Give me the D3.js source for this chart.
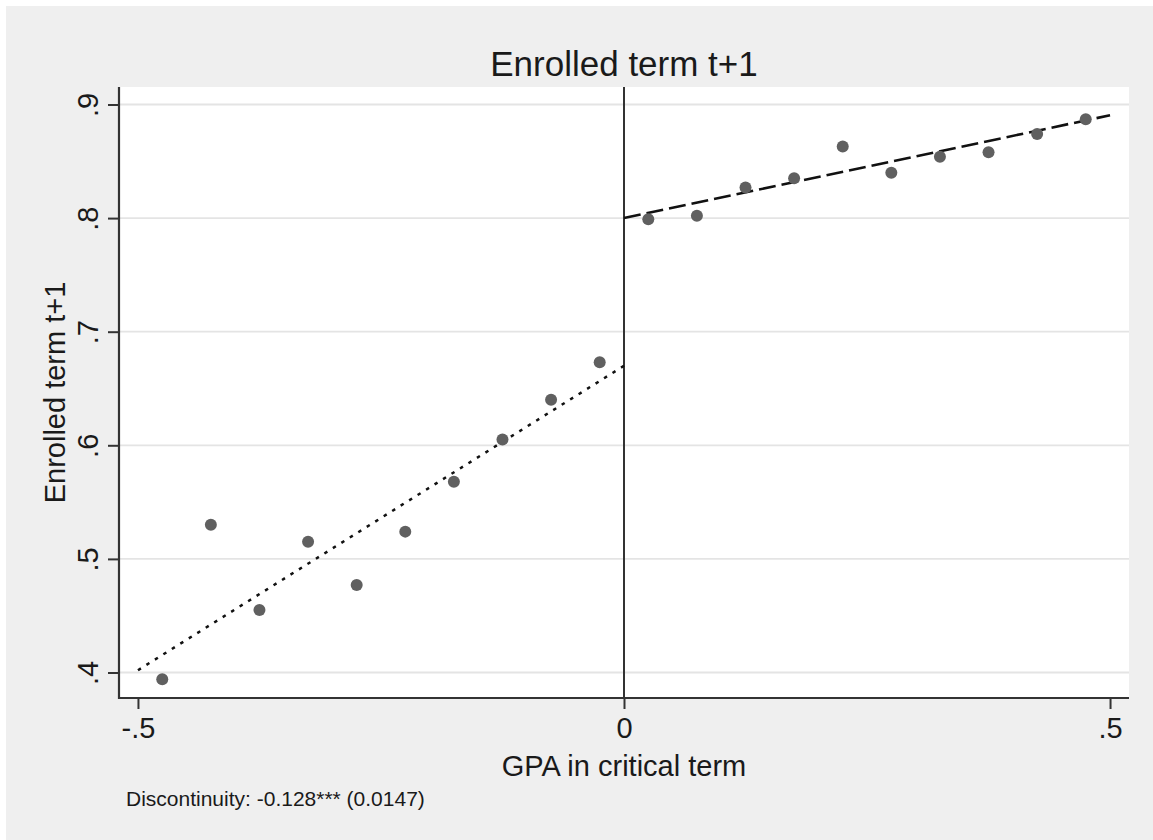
<!DOCTYPE html>
<html>
<head>
<meta charset="utf-8">
<script src="https://cdn.jsdelivr.net/npm/d3@7"></script>
<style>
  html, body { margin: 0; padding: 0; background: #ffffff; }
  svg { display: block; }
  text { font-family: "Liberation Sans", Arial, Helvetica, sans-serif; fill: #1a1a1a; }
</style>
</head>
<body>
<svg id="chart" width="1153" height="840"></svg>
<script>
// ---- data ----
const chartTitle = "Enrolled term t+1";
const xAxisTitle = "GPA in critical term";
const yAxisTitle = "Enrolled term t+1";
const noteText = "Discontinuity: -0.128*** (0.0147)";

const xTickValues = [-0.5, 0, 0.5];
const xTickLabels = ["-.5", "0", ".5"];
const yTickValues = [0.4, 0.5, 0.6, 0.7, 0.8, 0.9];
const yTickLabels = [".4", ".5", ".6", ".7", ".8", ".9"];

const leftBinX = [-0.475, -0.425, -0.375, -0.325, -0.275, -0.225, -0.175, -0.125, -0.075, -0.025];
const leftBinY = [0.394, 0.530, 0.455, 0.515, 0.477, 0.524, 0.568, 0.605, 0.640, 0.673];
const rightBinX = [0.025, 0.075, 0.125, 0.175, 0.225, 0.275, 0.325, 0.375, 0.425, 0.475];
const rightBinY = [0.799, 0.802, 0.827, 0.835, 0.863, 0.840, 0.854, 0.858, 0.874, 0.887];

const leftFitX = [-0.5, 0];
const leftFitY = [0.402, 0.670];
const rightFitX = [0, 0.5];
const rightFitY = [0.800, 0.8905];

const cutoff = 0;

// ---- layout ----
const W = 1153, H = 840;
const plot = { left: 119, right: 1129, top: 87, bottom: 698 };

const svg = d3.select("#chart");

// outer gray panel
svg.append("rect").attr("x", 6).attr("y", 6).attr("width", W - 6).attr("height", H - 6)
  .attr("fill", "#efefef");

// plot region
svg.append("rect").attr("x", plot.left).attr("y", plot.top)
  .attr("width", plot.right - plot.left).attr("height", plot.bottom - plot.top)
  .attr("fill", "#ffffff");

const x = d3.scaleLinear().domain([-0.5195, 0.5195]).range([plot.left, plot.right]);
const y = d3.scaleLinear().domain([0.37755, 0.9154]).range([plot.bottom, plot.top]);

// gridlines
svg.append("g").selectAll("line").data(yTickValues).join("line")
  .attr("x1", plot.left).attr("x2", plot.right)
  .attr("y1", d => y(d)).attr("y2", d => y(d))
  .attr("stroke", "#e4e4e4").attr("stroke-width", 1.8);

// cutoff vertical line
svg.append("line")
  .attr("x1", x(cutoff)).attr("x2", x(cutoff))
  .attr("y1", plot.top).attr("y2", plot.bottom)
  .attr("stroke", "#333333").attr("stroke-width", 2);

// fitted lines
const line = d3.line().x(d => x(d[0])).y(d => y(d[1]));
svg.append("path").datum(d3.zip(leftFitX, leftFitY))
  .attr("d", line).attr("fill", "none")
  .attr("stroke", "#111111").attr("stroke-width", 2.5)
  .attr("stroke-dasharray", "3.5,6.5");
svg.append("path").datum(d3.zip(rightFitX, rightFitY))
  .attr("d", line).attr("fill", "none")
  .attr("stroke", "#111111").attr("stroke-width", 2.6)
  .attr("stroke-dasharray", "17,6");

// points
const pts = d3.zip(leftBinX, leftBinY).concat(d3.zip(rightBinX, rightBinY));
svg.append("g").selectAll("circle").data(pts).join("circle")
  .attr("cx", d => x(d[0])).attr("cy", d => y(d[1])).attr("r", 6)
  .attr("fill", "#606060");

// axes
const yAxis = d3.axisLeft(y).tickValues(yTickValues)
  .tickFormat((d, i) => yTickLabels[i]).tickSize(11).tickSizeOuter(0);
const gy = svg.append("g").attr("transform", `translate(${plot.left},0)`).call(yAxis);
gy.select(".domain").remove();
gy.selectAll(".tick line").attr("stroke", "#333333").attr("stroke-width", 2);
gy.selectAll(".tick text")
  .attr("transform", "rotate(-90)")
  .attr("x", 0).attr("y", -21).attr("dy", null)
  .attr("text-anchor", "middle")
  .style("font-size", "29px").style("fill", "#1a1a1a")
  .style("font-family", "'Liberation Sans', Arial, sans-serif");

const xAxis = d3.axisBottom(x).tickValues(xTickValues)
  .tickFormat((d, i) => xTickLabels[i]).tickSize(11).tickSizeOuter(0);
const gx = svg.append("g").attr("transform", `translate(0,${plot.bottom})`).call(xAxis);
gx.select(".domain").remove();
gx.selectAll(".tick line").attr("stroke", "#333333").attr("stroke-width", 2);
gx.selectAll(".tick text")
  .attr("y", 40).attr("dy", null)
  .style("font-size", "29px").style("fill", "#1a1a1a")
  .style("font-family", "'Liberation Sans', Arial, sans-serif");

// axis lines
svg.append("line").attr("x1", plot.left).attr("x2", plot.left)
  .attr("y1", plot.top).attr("y2", plot.bottom + 1)
  .attr("stroke", "#333333").attr("stroke-width", 2.2);
svg.append("line").attr("x1", plot.left - 1).attr("x2", plot.right)
  .attr("y1", plot.bottom).attr("y2", plot.bottom)
  .attr("stroke", "#333333").attr("stroke-width", 2.2);

// titles
svg.append("text").attr("x", (plot.left + plot.right) / 2).attr("y", 76)
  .attr("text-anchor", "middle").style("font-size", "35px").text(chartTitle);
svg.append("text").attr("x", (plot.left + plot.right) / 2).attr("y", 776)
  .attr("text-anchor", "middle").style("font-size", "29px").text(xAxisTitle);
svg.append("text")
  .attr("transform", `translate(65,${(plot.top + plot.bottom) / 2}) rotate(-90)`)
  .attr("text-anchor", "middle").style("font-size", "29px").text(yAxisTitle);
svg.append("text").attr("x", 126).attr("y", 806)
  .style("font-size", "21px").text(noteText);
</script>
</body>
</html>
